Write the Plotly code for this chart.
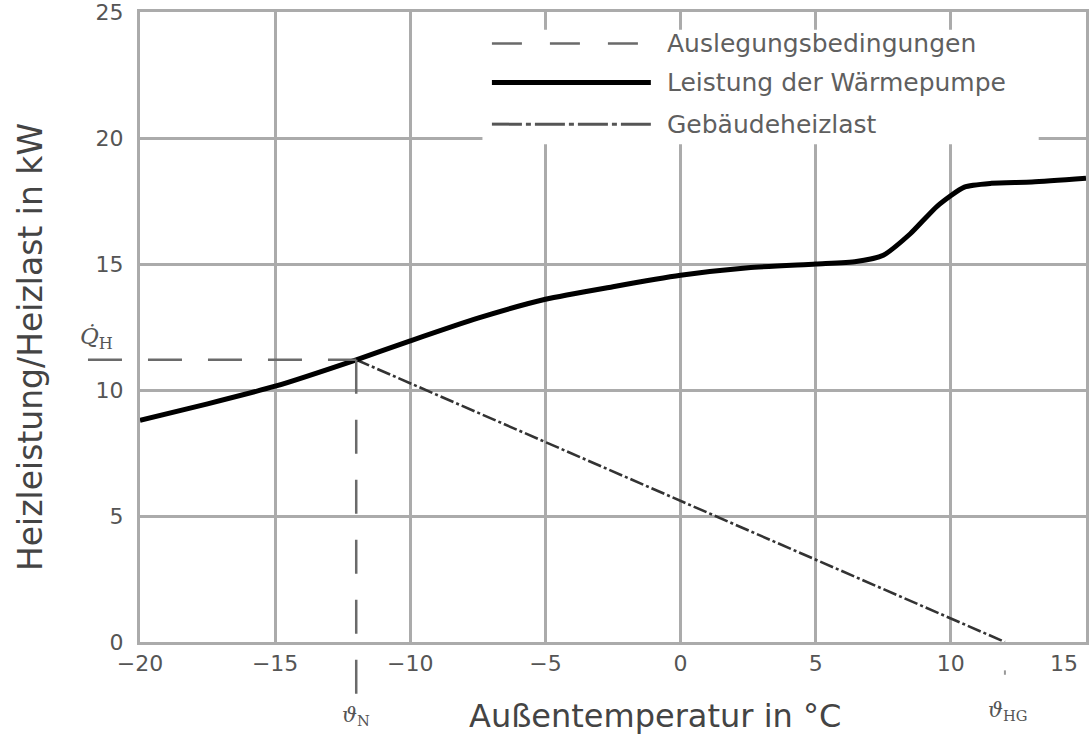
import plotly.graph_objects as go

# ---- data ----
temp_hp = [-20, -17.5, -15, -12, -10, -7.5, -5, -2.5, 0, 2.5, 5, 6.5, 7.5, 8.5, 9.5, 10.5, 11.5, 13, 15]
power_hp = [8.8, 9.45, 10.15, 11.2, 11.95, 12.85, 13.6, 14.1, 14.55, 14.85, 15.0, 15.1, 15.35, 16.2, 17.3, 18.05, 18.2, 18.25, 18.4]

temp_load = [-12, 12]
heat_load = [11.2, 0]

theta_N = -12      # Normaußentemperatur
Q_H = 11.2         # Auslegungsheizleistung
theta_HG = 12      # Heizgrenztemperatur

x_ticks = [-20, -15, -10, -5, 0, 5, 10, 15]
x_ticktext = ["\u221220", "\u221215", "\u221210", "\u22125", "0", "5", "10", "15"]
y_ticks = [0, 5, 10, 15, 20, 25]

legend_names = ["Auslegungsbedingungen", "Leistung der Wärmepumpe", "Gebäudeheizlast"]

x_range = [-20, 15]
y_range = [0, 25]

GRID = "#ababab"
TXT = "#555555"
FONT = "DejaVu Sans"

fig = go.Figure()

fig.add_trace(go.Scatter(x=temp_load, y=heat_load, mode="lines",
                         line=dict(color="#333333", width=2.6, dash="14px,3px,3px,3px"),
                         showlegend=False))
fig.add_trace(go.Scatter(x=temp_hp, y=power_hp, mode="lines", line_shape="spline",
                         line=dict(color="black", width=5, smoothing=0.6),
                         showlegend=False))

def xp(v):
    return (v - x_range[0]) / (x_range[1] - x_range[0])

def yp(v):
    return (v - y_range[0]) / (y_range[1] - y_range[0])

shapes = []
dash_style = dict(color="#6a6a6a", width=2.5, dash="34px,26px")
# design condition lines
shapes.append(dict(type="line", xref="paper", yref="paper", x0=-0.055, x1=xp(theta_N),
                   y0=yp(Q_H), y1=yp(Q_H), line=dash_style, layer="above"))
shapes.append(dict(type="line", xref="paper", yref="paper", x0=xp(theta_N), x1=xp(theta_N),
                   y0=yp(Q_H), y1=-0.09, line=dash_style, layer="above"))
shapes.append(dict(type="line", xref="paper", yref="paper", x0=xp(theta_HG), x1=xp(theta_HG),
                   y0=-0.045, y1=-0.052, line=dict(color="#999999", width=2), layer="above"))

# legend box
lx0, lx1 = 0.362, 0.950
ly0, ly1 = 0.79, 0.972
shapes.append(dict(type="rect", xref="paper", yref="paper", x0=lx0, x1=lx1, y0=ly0, y1=ly1,
                   fillcolor="white", line=dict(width=0), layer="above"))
rows = [0.950, 0.888, 0.822]
sx0, sx1 = 0.372, 0.540
shapes.append(dict(type="line", xref="paper", yref="paper", x0=sx0, x1=sx1, y0=rows[0], y1=rows[0],
                   line=dict(color="#6a6a6a", width=2.5, dash="30px,28px"), layer="above"))
shapes.append(dict(type="line", xref="paper", yref="paper", x0=sx0, x1=sx1, y0=rows[1], y1=rows[1],
                   line=dict(color="black", width=5), layer="above"))
shapes.append(dict(type="line", xref="paper", yref="paper", x0=sx0, x1=sx1, y0=rows[2], y1=rows[2],
                   line=dict(color="#555555", width=3, dash="30px,4px,5px,4px"), layer="above"))

annotations = []
for name, ry in zip(legend_names, rows):
    annotations.append(dict(text=name, xref="paper", yref="paper", x=0.555, y=ry,
                            xanchor="left", yanchor="middle", showarrow=False,
                            font=dict(family=FONT, size=25, color="#5f5f5f")))

# last x tick label sits inside the frame edge (right-aligned)
annotations.append(dict(text=x_ticktext[-1], xref="x", yref="paper", x=x_ticks[-1], y=0,
                        xanchor="right", yanchor="top", yshift=-7, xshift=-6, showarrow=False,
                        font=dict(family=FONT, size=22, color=TXT)))
axis_ticktext = x_ticktext[:-1] + [""]

annotations.append(dict(text="Außentemperatur in °C", xref="paper", yref="paper",
                        x=(656 - 140) / 947, y=-0.118, xanchor="center", yanchor="middle",
                        showarrow=False, font=dict(family=FONT, size=32, color="#444444")))
annotations.append(dict(text="Heizleistung/Heizlast in kW", xref="paper", yref="paper",
                        x=(30 - 140) / 947, y=(642 - 347) / 630, xanchor="center", yanchor="middle",
                        textangle=-90, showarrow=False,
                        font=dict(family=FONT, size=33, color="#444444")))
annotations.append(dict(text="<i>Q̇</i><sub>H</sub>", xref="paper", yref="paper",
                        x=(96 - 140) / 947, y=yp(Q_H) + 0.034, xanchor="center", yanchor="middle",
                        showarrow=False, font=dict(family="DejaVu Serif", size=23, color="#555555")))
annotations.append(dict(text="<i>ϑ</i><sub>N</sub>", xref="paper", yref="paper",
                        x=xp(theta_N), y=-0.118, xanchor="center", yanchor="middle",
                        showarrow=False, font=dict(family="DejaVu Serif", size=21, color="#555555")))
annotations.append(dict(text="<i>ϑ</i><sub>HG</sub>", xref="paper", yref="paper",
                        x=xp(theta_HG) + 0.003, y=-0.11, xanchor="center", yanchor="middle",
                        showarrow=False, font=dict(family="DejaVu Serif", size=21, color="#555555")))

fig.update_layout(
    width=1089, height=738,
    margin=dict(l=140, r=3, t=12, b=96),
    paper_bgcolor="white", plot_bgcolor="white",
    showlegend=False,
    shapes=shapes, annotations=annotations,
    xaxis=dict(range=x_range, tickvals=x_ticks, ticktext=axis_ticktext,
               automargin=False,
               showgrid=True, gridcolor=GRID, gridwidth=3, zeroline=False,
               showline=True, linecolor=GRID, linewidth=3, mirror=True,
               ticks="", ticklabelstandoff=0, ticklabeloverflow="allow",
               tickfont=dict(family=FONT, size=22, color=TXT)),
    yaxis=dict(range=y_range, tickvals=y_ticks,
               automargin=False,
               showgrid=True, gridcolor=GRID, gridwidth=3, zeroline=False,
               showline=True, linecolor=GRID, linewidth=3, mirror=True,
               ticks="", ticklabelstandoff=9, ticklabeloverflow="allow",
               tickfont=dict(family=FONT, size=22, color=TXT)),
)

fig.write_html("out.html")
